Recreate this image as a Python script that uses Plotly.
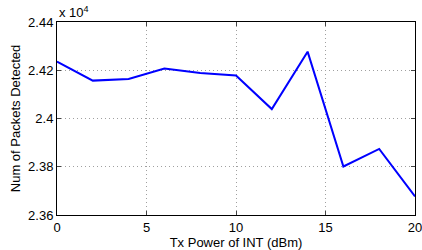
import plotly.graph_objects as go

tx_power = [0, 2, 4, 6, 8, 10, 12, 14, 16, 18, 20]
packets = [24236, 24157, 24164, 24207, 24189, 24178, 24039, 24277, 23801, 23874, 23677]
y_ticks = [23600, 23800, 24000, 24200, 24400]
y_tick_text = ["2.36", "2.38", "2.4", "2.42", "2.44"]
x_ticks = [0, 5, 10, 15, 20]

fig = go.Figure()
fig.add_trace(go.Scatter(x=tx_power, y=packets, mode="lines",
                         line=dict(color="#0000ff", width=2), cliponaxis=False))

font = dict(family="Liberation Sans, Arial, sans-serif", size=13, color="black")
grid = dict(showgrid=True, gridcolor="#a0a0a0", griddash="1px,3px", gridwidth=1)
fig.update_layout(
    width=422, height=250,
    margin=dict(l=57, r=7, t=22, b=35),
    paper_bgcolor="white", plot_bgcolor="white",
    showlegend=False, font=font,
    xaxis=dict(range=[0, 20], tickvals=x_ticks, ticks="inside", ticklen=4,
               showline=True, linecolor="black", linewidth=1, mirror="ticks",
               zeroline=False, tickfont=font, automargin=False,
               ticklabeloverflow="allow",
               title=dict(text="Tx Power of INT (dBm)", font=font, standoff=0),
               **grid),
    yaxis=dict(range=[23600, 24400], tickvals=y_ticks, ticktext=y_tick_text,
               ticks="inside", ticklen=4,
               showline=True, linecolor="black", linewidth=1, mirror="ticks",
               zeroline=False, tickfont=font, automargin=False,
               ticklabeloverflow="allow",
               title=dict(text="Num of Packets Detected", font=font, standoff=4),
               **grid),
    annotations=[dict(text="x 10<sup>4</sup>", xref="paper", yref="paper",
                      x=0, y=1, xanchor="left", yanchor="bottom", yshift=0,
                      showarrow=False, font=font)],
)
fig.write_html("out.html", config={"displayModeBar": False},
               post_script="document.body.style.margin='0';document.body.style.overflow='hidden';")
